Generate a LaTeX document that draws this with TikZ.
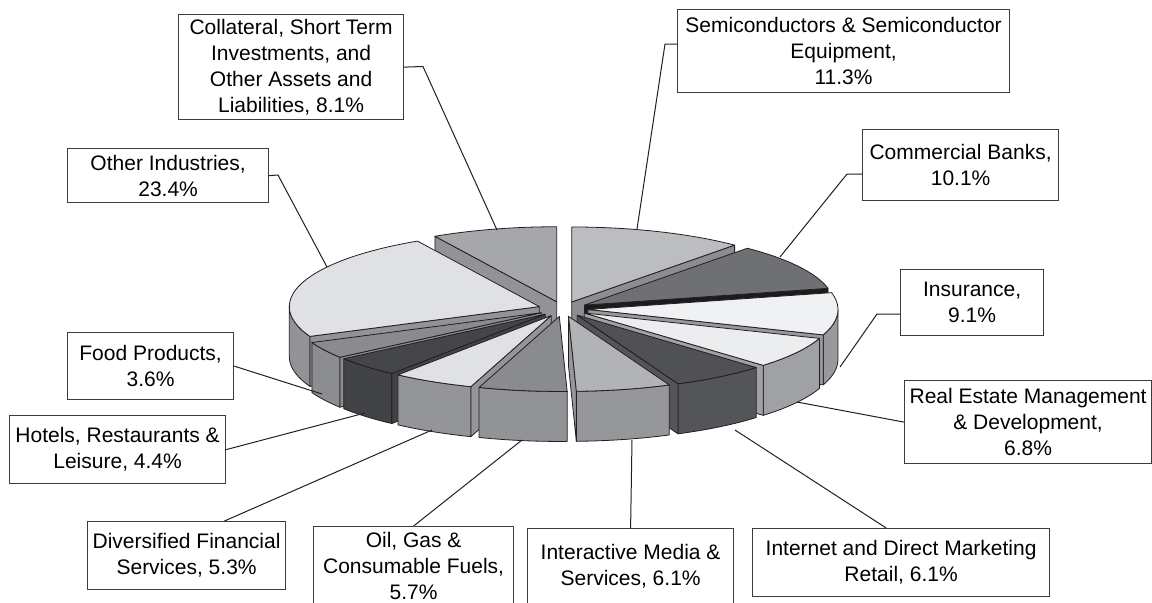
\documentclass[tikz,border=0pt]{standalone}
\usepackage{fontspec}
\setmainfont{Liberation Sans}
\usetikzlibrary{calc}

\definecolor{edge}{RGB}{35,31,32}
\definecolor{boxline}{RGB}{60,60,60}
\definecolor{collattop}{RGB}{166,167,171}
\definecolor{collatwall}{RGB}{146,147,151}
\definecolor{semitop}{RGB}{188,189,193}
\definecolor{semiwall}{RGB}{140,141,145}
\definecolor{commtop}{RGB}{111,112,116}
\definecolor{commwall}{RGB}{28,28,30}
\definecolor{othertop}{RGB}{224,225,228}
\definecolor{otherwall}{RGB}{146,147,151}
\definecolor{insurtop}{RGB}{240,241,243}
\definecolor{insurwall}{RGB}{152,153,157}
\definecolor{foodtop}{RGB}{138,139,143}
\definecolor{foodwall}{RGB}{140,141,145}
\definecolor{realtop}{RGB}{236,237,239}
\definecolor{realwall}{RGB}{160,161,165}
\definecolor{hoteltop}{RGB}{68,69,73}
\definecolor{hotelwall}{RGB}{66,67,71}
\definecolor{inettop}{RGB}{80,81,85}
\definecolor{inetwall}{RGB}{84,85,89}
\definecolor{diverstop}{RGB}{224,225,228}
\definecolor{diverswall}{RGB}{148,149,153}
\definecolor{mediatop}{RGB}{178,179,183}
\definecolor{mediawall}{RGB}{150,151,155}
\definecolor{oiltop}{RGB}{138,139,143}
\definecolor{oilwall}{RGB}{146,147,151}

% pie geometry, in pixels of the chart
\def\cx{563}\def\cy{309}\def\rx{250}\def\ry{75}\def\dep{50}\def\ex{0.1}

% one exploded slice: #1 = start angle, #2 = end angle (#2 < #1), #3 = top, #4 = sides
\newcommand{\pieslice}[4]{%
  \pgfmathsetmacro{\slmid}{(#1+#2)/2}%
  \pgfmathsetmacro{\slox}{\cx+\ex*\rx*cos(\slmid)}%
  \pgfmathsetmacro{\sloy}{\cy-\ex*\ry*sin(\slmid)}%
  \pgfmathsetmacro{\wlo}{max(#2,-180)}%
  \pgfmathsetmacro{\whi}{min(#1,0)}%
  \pgfmathtruncatemacro{\va}{cos(#1)<-0.001}%
  \pgfmathtruncatemacro{\vb}{cos(#2)>0.001}%
  \ifdim\wlo pt<\whi pt
    \filldraw[face,fill=#4] plot[domain=\wlo:\whi,samples=25] ({\slox+\rx*cos(\x)},{\sloy-\ry*sin(\x)})
      -- plot[domain=\whi:\wlo,samples=25] ({\slox+\rx*cos(\x)},{\sloy-\ry*sin(\x)+\dep}) -- cycle;
  \fi
  \ifnum\va=1
    \filldraw[face,fill=#4] (\slox,\sloy) -- ({\slox+\rx*cos(#1)},{\sloy-\ry*sin(#1)}) -- ++(0,\dep) -- ({\slox},{\sloy+\dep}) -- cycle;
  \fi
  \ifnum\vb=1
    \filldraw[face,fill=#4] (\slox,\sloy) -- ({\slox+\rx*cos(#2)},{\sloy-\ry*sin(#2)}) -- ++(0,\dep) -- ({\slox},{\sloy+\dep}) -- cycle;
  \fi
  \filldraw[face,fill=#3] (\slox,\sloy) -- plot[domain=#2:#1,samples=40] ({\slox+\rx*cos(\x)},{\sloy-\ry*sin(\x)}) -- cycle;
}

\begin{document}
\begin{tikzpicture}[x=0.5pt,y=-0.5pt]
\tikzstyle{face}=[draw=edge, line width=0.4pt, line join=round]
\tikzstyle{lbl}=[draw=boxline, line width=0.6pt, fill=white, align=center, inner sep=0pt, anchor=north west, font=\fontsize{10.5}{13}\selectfont]
\tikzstyle{leader}=[draw=edge, line width=0.5pt]
\useasboundingbox (0,0) rectangle (1152,602);

% slices, back to front
\pieslice{-240.84}{-270}{collattop}{collatwall}
\pieslice{90}{49.32}{semitop}{semiwall}
\pieslice{49.32}{12.96}{commtop}{commwall}
\pieslice{-156.6}{-240.84}{othertop}{otherwall}
\pieslice{12.96}{-19.8}{insurtop}{insurwall}
\pieslice{-143.64}{-156.6}{foodtop}{foodwall}
\pieslice{-19.8}{-44.28}{realtop}{realwall}
\pieslice{-127.8}{-143.64}{hoteltop}{hotelwall}
\pieslice{-44.28}{-66.24}{inettop}{inetwall}
\pieslice{-108.72}{-127.8}{diverstop}{diverswall}
\pieslice{-66.24}{-88.2}{mediatop}{mediawall}
\pieslice{-88.2}{-108.72}{oiltop}{oilwall}

% label boxes
\node[lbl, minimum width=112.5pt, minimum height=52.5pt] (collat) at (178,14) {Collateral, Short Term\\Investments, and\\Other Assets and\\Liabilities, 8.1\%};
\node[lbl, minimum width=100.5pt, minimum height=27pt] (other) at (67,148) {Other Industries,\\23.4\%};
\node[lbl, minimum width=166pt, minimum height=41.5pt] (semi) at (677,9) {Semiconductors \& Semiconductor\\Equipment,\\11.3\%};
\node[lbl, minimum width=98pt, minimum height=35.5pt] (comm) at (862,129) {Commercial Banks,\\10.1\%};
\node[lbl, minimum width=71.5pt, minimum height=33pt] (insur) at (900,269) {Insurance,\\9.1\%};
\node[lbl, minimum width=123.5pt, minimum height=41.5pt] (realest) at (904,380) {Real Estate Management\\\& Development,\\6.8\%};
\node[lbl, minimum width=148.5pt, minimum height=34pt] (inet) at (752,528) {Internet and Direct Marketing\\Retail, 6.1\%};
\node[lbl, minimum width=103pt, minimum height=38pt] (media) at (527,528) {Interactive Media \&\\Services, 6.1\%};
\node[lbl, minimum width=100pt, minimum height=39.5pt] (oil) at (313,526) {Oil, Gas \&\\Consumable Fuels,\\5.7\%};
\node[lbl, minimum width=99pt, minimum height=34pt] (divers) at (87,521) {Diversified Financial\\Services, 5.3\%};
\node[lbl, minimum width=108pt, minimum height=34pt] (hotel) at (9,415) {Hotels, Restaurants \&\\Leisure, 4.4\%};
\node[lbl, minimum width=83pt, minimum height=33.5pt] (food) at (67,332) {Food Products,\\3.6\%};

% leader lines
\coordinate (collatknee) at (423,66.5);
\coordinate (collattip) at (497,230);
\coordinate (otherknee) at (278,175);
\coordinate (othertip) at (327,267);
\coordinate (semiknee) at (665,44);
\coordinate (semitip) at (637,229);
\coordinate (commknee) at (847,174);
\coordinate (commtip) at (780,257);
\coordinate (insurknee) at (877,314);
\coordinate (insurtip) at (840,367);
\coordinate (realtip) at (797,402);
\coordinate (inettip) at (735,430);
\coordinate (mediatip) at (632,440);
\coordinate (oiltip) at (522,440);
\coordinate (diverstip) at (432,430);
\coordinate (hoteltip) at (365,413);
\coordinate (foodtip) at (322,394);

\draw[leader] (collat.east) -- (collatknee) -- (collattip);
\draw[leader] (other.east) -- (otherknee) -- (othertip);
\draw[leader] (semi.west |- semiknee) -- (semiknee) -- (semitip);
\draw[leader] (comm.west |- commknee) -- (commknee) -- (commtip);
\draw[leader] (insur.west |- insurknee) -- (insurknee) -- (insurtip);
\draw[leader] (realest.west) -- (realtip);
\draw[leader] ($(inet.north west)!0.45!(inet.north east)$) -- (inettip);
\draw[leader] (media.north) -- (mediatip);
\draw[leader] (oil.north) -- (oiltip);
\draw[leader] ($(divers.north west)!0.69!(divers.north east)$) -- (diverstip);
\draw[leader] (hotel.east) -- (hoteltip);
\draw[leader] (food.east) -- (foodtip);

\end{tikzpicture}
\end{document}
